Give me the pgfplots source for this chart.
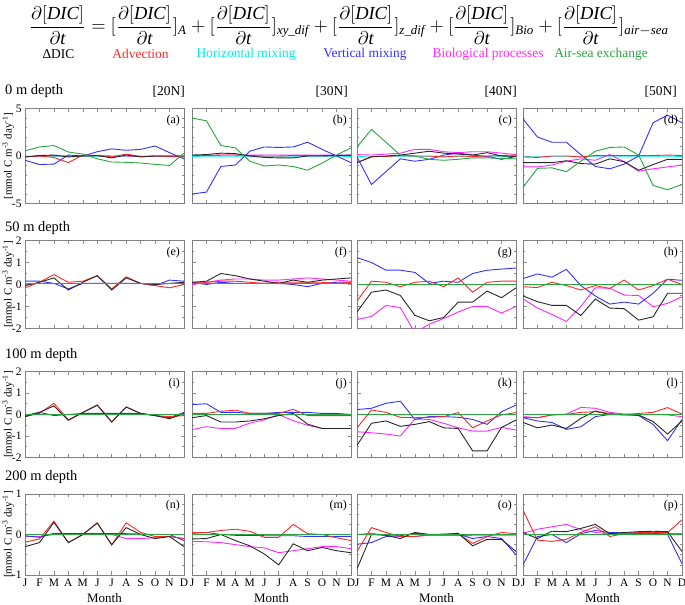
\documentclass[border=0pt]{standalone}
\usepackage{amsmath}
\usepackage{fontspec}
\setmainfont{Liberation Serif}
\usepackage{pgfplots}
\usepackage{pgfplotstable}
\pgfplotsset{compat=1.18}
\definecolor{cD}{RGB}{40,40,40}
\definecolor{cA}{RGB}{255,40,40}
\definecolor{cH}{RGB}{0,235,235}
\definecolor{cV}{RGB}{50,50,255}
\definecolor{cB}{RGB}{255,40,255}
\definecolor{cS}{RGB}{40,165,60}

\pgfplotstableread{
m D A H V B S
1 -0.1 -0.1 0 -0.45 -0.05 0.55
2 0.05 0.0 0 -0.9 0.0 0.95
3 0.1 -0.15 0 -0.85 0.05 1.1
4 -0.1 -0.7 0 0.1 0.0 0.42
5 0.0 0.1 0 0.0 0.0 0.2
6 0.05 0.05 0 0.45 0.05 -0.3
7 -0.2 -0.1 0 0.75 0.0 -0.63
8 0.1 0.2 0 0.6 0.0 -0.67
9 -0.1 -0.05 0 0.7 -0.05 -0.74
10 0.0 0.0 0 1.05 0.0 -0.88
11 0.0 -0.05 0 0.35 0.0 -1.0
12 0.0 -0.1 0 -0.3 0.0 0.3
}\tA
\pgfplotstableread{
m D A H V B S
1 0.1 0.05 0 -4.0 0.05 4.0
2 0.15 0.05 0 -3.8 0.05 3.7
3 0.3 0.1 0 -1.1 0.1 1.1
4 0.25 0.1 0 -0.95 0.1 0.85
5 0.0 0.05 0 0.5 0.1 -0.55
6 -0.15 0.0 0 0.95 0.1 -1.05
7 -0.2 0.0 0 0.9 0.1 -0.95
8 -0.2 0.05 0 0.95 0.1 -1.1
9 0.0 0.05 0 1.45 0.1 -1.5
10 0.0 0.05 0 0.7 0.1 -0.75
11 0.05 0.05 0 0.0 0.1 0.1
12 0.1 0.05 0 -0.7 0.1 0.85
}\tB
\pgfplotstableread{
m D A H V B S
1 -0.7 -0.7 0 -0.1 0.15 0.95
2 -0.1 -0.05 0 -3.0 0.1 2.8
3 0.0 -0.05 0 -1.65 0.2 1.45
4 0.1 0.05 0 -0.3 0.3 0.1
5 0.3 0.0 0 -0.55 0.7 0.0
6 0.5 0.0 0 -0.35 0.7 -0.35
7 0.3 -0.1 0 0.1 0.45 -0.45
8 0.2 0.0 0 0.3 0.35 -0.35
9 0.1 -0.05 0 0.1 0.45 -0.2
10 0.35 0.0 0 -0.05 0.45 -0.2
11 0.0 0.05 0 -0.35 0.3 -0.25
12 -0.05 0.1 0 -0.05 0.15 -0.3
}\tC
\pgfplotstableread{
m D A H V B S
1 -0.7 -0.1 0 3.9 -1.15 -3.3
2 -0.7 -0.15 0 2.0 -1.15 -1.3
3 -0.7 0.0 0 1.45 -0.95 -1.25
4 -0.5 0.0 0 1.45 -0.55 -1.65
5 -0.8 -0.1 0 0.15 -0.3 -0.55
6 -0.85 0.05 0 -1.1 -0.45 0.5
7 -0.3 0.05 0 -1.35 0.15 0.9
8 -0.6 0.05 0 -0.85 -0.6 0.95
9 -1.5 0.05 0 0.0 -1.6 0.1
10 -0.9 0.05 0 3.5 -1.35 -3.1
11 -0.35 0.1 0 4.3 -1.15 -3.55
12 -0.35 0.05 0 3.5 -0.95 -3.0
}\tD
\pgfplotstableread{
m D A H V B S
1 -0.05 -0.15 0.05 0.15 0.05 0.05
2 0.1 0.1 0.05 0.15 0.05 0.05
3 0.3 0.45 0.05 0.05 0.05 0.05
4 -0.25 0.1 0.05 -0.2 0.05 0.05
5 0.1 0.15 0.05 0.05 0.05 0.05
6 0.4 0.4 0.05 0.05 0.05 0.05
7 -0.25 -0.2 0.05 0.05 0.05 0.05
8 0.3 0.35 0.05 0.05 0.05 0.05
9 0.05 0.05 0.05 0.05 0.05 0.05
10 0.0 -0.05 0.05 -0.05 0.05 0.05
11 0.05 -0.15 0.05 0.2 0.05 0.05
12 0.1 0.0 0.05 0.15 0.05 0.05
}\tE
\pgfplotstableread{
m D A H V B S
1 0.1 0.1 0.05 0.1 0.0 0.05
2 0.15 0.1 0.05 0.0 0.1 0.05
3 0.5 0.15 0.05 0.1 0.2 0.05
4 0.4 0.15 0.05 0.05 0.25 0.05
5 0.25 0.1 0.05 0.05 0.25 0.05
6 0.15 0.05 0.05 0.05 0.2 0.05
7 0.05 0.1 0.05 0.05 0.2 0.05
8 0.2 0.1 0.05 0.0 0.25 0.05
9 0.1 0.1 0.05 -0.1 0.3 0.05
10 0.2 0.1 0.05 0.05 0.25 0.05
11 0.25 0.05 0.05 0.1 0.2 0.05
12 0.3 0.1 0.05 0.1 0.15 0.05
}\tF
\pgfplotstableread{
m D A H V B S
1 -1.25 -0.75 0 1.22 -1.6 0
2 -0.35 0.15 0 1.0 -1.45 0
3 -0.25 0.1 0 0.65 -0.95 0
4 -0.5 -0.1 0 0.65 -1.05 0
5 -1.4 0.1 0 0.55 -2.2 0
6 -1.65 0.15 0 0.05 -1.8 0
7 -1.5 -0.1 0 0.15 -1.55 0
8 -0.8 0.3 0 0.1 -1.25 0
9 -0.8 -0.35 0 0.5 -1.0 0
10 -0.3 0.1 0 0.65 -1.0 0
11 -0.6 0.15 0 0.7 -1.3 0
12 -0.15 0.15 0 0.75 -1.0 0
}\tG
\pgfplotstableread{
m D A H V B S
1 -0.52 -0.1 0 0.27 -0.65 0
2 -0.78 -0.14 0 0.48 -1.07 0
3 -0.95 0.1 0 0.33 -1.36 0
4 -0.95 -0.05 0 0.69 -1.68 0
5 -1.41 -0.25 0 -0.05 -1.0 0
6 -0.66 -0.05 0 -0.52 -0.15 0
7 -1.07 -0.18 0 -0.89 -0.17 0
8 -1.1 0.2 0 -0.8 -0.48 0
9 -1.62 -0.25 0 -0.89 -0.5 0
10 -1.47 -0.05 0 -0.4 -1.01 0
11 -0.4 0.24 0 0.24 -0.86 0
12 -0.4 0.0 0 0.19 -0.56 0
}\tH
\pgfplotstableread{
m D A H V B S
1 -0.1 -0.1 0 -0.05 0 0
2 0.1 0.05 0 0.1 0 0
3 0.4 0.52 0 -0.05 0 0
4 -0.27 -0.25 0 0.0 0 0
5 0.09 0.1 0 0.05 0 0
6 0.43 0.45 0 0.05 0 0
7 -0.35 -0.35 0 0.05 0 0
8 0.35 0.35 0 0.05 0 0
9 0.05 0.05 0 0.05 0 0
10 -0.05 -0.05 0 -0.05 0 0
11 -0.2 -0.1 0 -0.15 0 0
12 0.05 -0.05 0 0.1 0 0
}\tI
\pgfplotstableread{
m D A H V B S
1 -0.15 0.05 0 0.46 -0.7 0
2 -0.05 0.05 0 0.5 -0.57 0
3 -0.35 0.15 0 0.1 -0.65 0
4 -0.35 0.2 0 0.1 -0.65 0
5 -0.3 0.05 0 0.05 -0.4 0
6 -0.2 0.05 0 0.05 -0.25 0
7 -0.05 0.05 0 0.1 0.0 0
8 0.05 0.24 0 0.1 -0.29 0
9 -0.45 -0.05 0 0.1 -0.5 0
10 -0.65 -0.05 0 0.05 -0.65 0
11 -0.65 -0.05 0 0.05 -0.65 0
12 -0.65 -0.05 0 0.0 -0.65 0
}\tJ
\pgfplotstableread{
m D A H V B S
1 -1.43 -0.62 0 0.23 -0.8 0
2 -0.41 0.21 0 0.29 -0.85 0
3 -0.3 0.1 0 0.52 -0.91 0
4 -0.55 -0.13 0 0.62 -1.0 0
5 -0.46 -0.15 0 -0.23 -0.21 0
6 -0.33 -0.13 0 -0.1 -0.23 0
7 -0.62 -0.1 0 -0.1 -0.41 0
8 -0.65 0.09 0 -0.13 -0.62 0
9 -1.69 -0.62 0 -0.23 -0.77 0
10 -1.69 -0.3 0 -0.46 -0.77 0
11 -0.6 -0.02 0 0.13 -0.6 0
12 -0.26 0.09 0 0.44 -0.72 0
}\tK
\pgfplotstableread{
m D A H V B S
1 -0.37 -0.13 0 -0.15 -0.1 0
2 -0.62 -0.15 0 -0.3 -0.15 0
3 -0.49 -0.02 0 -0.37 -0.02 0
4 -0.65 0.0 0 -0.69 0.02 0
5 -0.18 0.1 0 -0.57 0.33 0
6 0.16 0.13 0 -0.1 0.29 0
7 0.0 0.05 0 0.0 0.1 0
8 -0.02 0.0 0 0.0 0.02 0
9 -0.02 0.05 0 -0.05 0.0 0
10 -0.33 0.1 0 -0.46 0.0 0
11 -0.91 0.32 0 -1.22 -0.02 0
12 -0.3 0.02 0 -0.23 -0.1 0
}\tL
\pgfplotstableread{
m D A H V B S
1 -0.3 -0.19 0 -0.03 -0.05 0
2 -0.2 -0.11 0 -0.07 -0.05 0
3 0.3 0.33 0 0.03 0.0 0
4 -0.2 -0.2 0 0.02 0.0 0
5 0.0 0.0 0 0.02 0.0 0
6 0.28 0.29 0 0.02 0.0 0
7 -0.25 -0.26 0 0.02 0.0 0
8 0.17 0.29 0 0.02 -0.1 0
9 0.0 0.05 0 0.01 -0.1 0
10 -0.1 -0.05 0 0.0 -0.08 0
11 -0.05 -0.05 0 0.0 -0.05 0
12 -0.3 -0.1 0 -0.15 -0.1 0
}\tN
\pgfplotstableread{
m D A H V B S
1 -0.11 0.05 0 0.03 -0.17 0
2 -0.1 0.05 0 0.05 -0.18 0
3 0.0 0.1 0 0.0 -0.2 0
4 -0.15 0.13 0 -0.02 -0.25 0
5 -0.28 0.08 0 -0.02 -0.3 0
6 -0.48 -0.07 0 -0.03 -0.33 0
7 -0.75 -0.07 0 -0.03 -0.45 0
8 -0.23 0.25 0 -0.03 -0.4 0
9 -0.4 0.02 0 -0.05 -0.35 0
10 -0.32 0.0 0 -0.05 -0.3 0
11 -0.4 -0.08 0 -0.05 -0.3 0
12 -0.45 -0.15 0 -0.05 -0.35 0
}\tM
\pgfplotstableread{
m D A H V B S
1 -0.85 -0.42 0 -0.24 0.0 0
2 0.0 0.17 0 -0.2 0.03 0
3 -0.02 0.05 0 -0.05 -0.02 0
4 -0.1 -0.05 0 -0.03 -0.05 0
5 0.05 -0.05 0 0.03 -0.05 0
6 0.0 0.0 0 0.0 -0.02 0
7 0.0 0.0 0 0.01 -0.02 0
8 0.03 0.02 0 0.01 -0.02 0
9 -0.28 -0.22 0 -0.1 -0.03 0
10 -0.12 -0.05 0 -0.05 -0.03 0
11 -0.12 0.05 0 -0.1 -0.03 0
12 -0.42 0.02 0 -0.5 -0.03 0
}\tO
\pgfplotstableread{
m D A H V B S
1 0.05 0.6 0 -0.75 0.03 0
2 -0.1 -0.14 0 -0.05 0.13 0
3 0.08 -0.17 0 0.0 0.19 0
4 0.07 -0.12 0 -0.2 0.25 0
5 0.15 0.05 0 0.02 0.12 0
6 0.25 0.19 0 0.1 0.05 0
7 0.02 -0.05 0 0.05 0.02 0
8 0.05 0.02 0 0.04 0.02 0
9 0.07 0.05 0 0.03 0.02 0
10 0.08 0.05 0 0.03 0.02 0
11 0.07 0.05 0 0.0 0.02 0
12 -0.42 0.36 0 -0.72 0.02 0
}\tP

\pgfplotsset{
  panel/.style={scale only axis, width=159bp, anchor=south west,
    xmin=1, xmax=12, xtick={1,...,12}, xticklabels={},
    axis line style={black!50}, tick style={black!45, line width=0.5bp},
    major tick length=3.5bp, minor tick length=2bp, tick align=inside,
    yticklabels={},
    ticklabel style={font=\fontsize{11.5}{12}\selectfont},
    every axis plot/.append style={line width=0.9bp, mark=none},
    every axis y label/.style={at={(axis description cs:-0.105,0.5)}, rotate=90, anchor=center, font=\fontsize{11}{11}\selectfont},
    every axis x label/.style={at={(axis description cs:0.5,0)}, anchor=center, yshift=-23bp, font=\fontsize{13}{13}\selectfont},
  },
  r1/.style={height=95bp, ymin=-5, ymax=5, ytick={-5,0,5}, minor y tick num=4},
  r2/.style={height=88bp, ymin=-2, ymax=2, ytick={-2,-1,0,1,2}, minor y tick num=1},
  r3/.style={height=86bp, ymin=-2, ymax=2, ytick={-2,-1,0,1,2}, minor y tick num=1},
  r4/.style={height=81bp, ymin=-1, ymax=1, ytick={-1,0,1}, minor y tick num=3},
  c1/.style={ylabel={[mmol C m\textsuperscript{-3} day\textsuperscript{-1}]}},
  bot/.style={xticklabels={J,F,M,A,M,J,J,A,S,O,N,D}, xlabel={Month}},
}
\newcommand{\panel}[5]{%
\begin{axis}[panel, at={(#1bp,#2bp)}, #5]
\addplot[cH] table[x=m,y=H]{#3};
\addplot[cB] table[x=m,y=B]{#3};
\addplot[cV] table[x=m,y=V]{#3};
\addplot[cA] table[x=m,y=A]{#3};
\addplot[cD] table[x=m,y=D]{#3};
\addplot[cS] table[x=m,y=S]{#3};
\node[anchor=north east, font=\fontsize{12}{12}\selectfont, inner sep=0pt] at (rel axis cs:0.975,0.93) {#4};
\end{axis}}

\begin{document}
\begin{tikzpicture}
\useasboundingbox (0bp,0bp) rectangle (685bp,605bp);
% equation
\node at (349bp,580bp) {\resizebox{640bp}{!}{$\dfrac{\partial[\mathit{DIC}]}{\partial \mathit{t}}=[\dfrac{\partial[\mathit{DIC}]}{\partial \mathit{t}}]_{\mathit{A}}+[\dfrac{\partial[\mathit{DIC}]}{\partial \mathit{t}}]_{\mathit{xy\_dif}}+[\dfrac{\partial[\mathit{DIC}]}{\partial \mathit{t}}]_{\mathit{z\_dif}}+[\dfrac{\partial[\mathit{DIC}]}{\partial \mathit{t}}]_{\mathit{Bio}}+[\dfrac{\partial[\mathit{DIC}]}{\partial \mathit{t}}]_{\mathit{air}-\mathit{sea}}$}};
\begin{scope}[every node/.style={font=\fontsize{13.5}{14}\selectfont}]
\node[text=black] at (58.5bp,551bp) {ΔDIC};
\node[text=cA] at (140.5bp,551bp) {Advection};
\node[text=cH] at (246bp,551bp) {Horizontal mixing};
\node[text=cV] at (365bp,551bp) {Vertical mixing};
\node[text=cB] at (488bp,551bp) {Biological processes};
\node[text=cS] at (601bp,551bp) {Air-sea exchange};
\end{scope}
\begin{scope}[every node/.style={font=\fontsize{14.5}{15}\selectfont, inner sep=0pt}]
\node[anchor=west] at (5bp,514bp) {0 m depth};
\node[anchor=west] at (5bp,377bp) {50 m depth};
\node[anchor=west] at (5bp,250bp) {100 m depth};
\node[anchor=west] at (5bp,128bp) {200 m depth};
\end{scope}
\begin{scope}[every node/.style={font=\fontsize{13.5}{14}\selectfont, inner sep=0pt}]
\node[anchor=east] at (185bp,513bp) {[20N]};
\node[anchor=east] at (348bp,513bp) {[30N]};
\node[anchor=east] at (517bp,513bp) {[40N]};
\node[anchor=east] at (677bp,513bp) {[50N]};
\end{scope}
% row 1
\panel{25}{401.5}{\tA}{(a)}{r1,c1,yticklabels={-5,0,5}}
\panel{192}{401.5}{\tB}{(b)}{r1}
\panel{357}{401.5}{\tC}{(c)}{r1}
\panel{523}{401.5}{\tD}{(d)}{r1}
% row 2
\panel{25}{276.5}{\tE}{(e)}{r2,c1,yticklabels={-2,-1,0,1,2}}
\panel{192}{276.5}{\tF}{(f)}{r2}
\panel{357}{276.5}{\tG}{(g)}{r2}
\panel{523}{276.5}{\tH}{(h)}{r2}
% row 3
\panel{25}{147.5}{\tI}{(i)}{r3,c1,yticklabels={-2,-1,0,1,2}}
\panel{192}{147.5}{\tJ}{(j)}{r3}
\panel{357}{147.5}{\tK}{(k)}{r3}
\panel{523}{147.5}{\tL}{(l)}{r3}
% row 4
\panel{25}{30}{\tN}{(n)}{r4,c1,bot,yticklabels={-1,0,1}}
\panel{192}{30}{\tM}{(m)}{r4,bot}
\panel{357}{30}{\tO}{(o)}{r4,bot}
\panel{523}{30}{\tP}{(p)}{r4,bot}
\end{tikzpicture}
\end{document}
